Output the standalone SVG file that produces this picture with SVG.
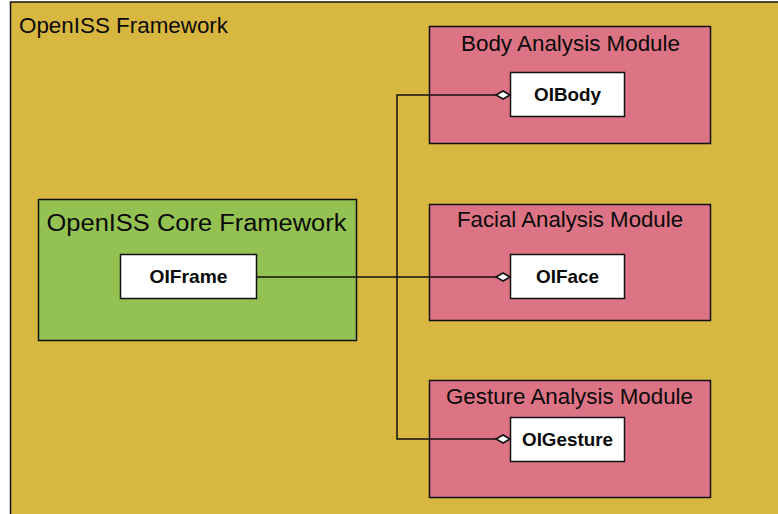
<svg xmlns="http://www.w3.org/2000/svg" width="778" height="514" viewBox="0 0 778 514">
<defs>
<style>
.frame{fill:#D8B740;stroke:#111;stroke-width:1.5}
.core{fill:#93C252;stroke:#111;stroke-width:1.5}
.mod{fill:#DD7485;stroke:#111;stroke-width:1.5}
.cls{fill:#fff;stroke:#111;stroke-width:1.5}
.t{font-family:"Liberation Sans",Arial,Helvetica,sans-serif;fill:#0a0a0a}
.title{font-size:22px}
.lbl{font-size:19px;font-weight:bold;text-anchor:middle}
.conn{fill:none;stroke:#111;stroke-width:1.5}
</style>
<marker id="dia" markerUnits="userSpaceOnUse" markerWidth="18" markerHeight="12" refX="15" refY="5.5" orient="auto">
<path d="M1,5.5 L8,1.5 L15,5.5 L8,9.5 Z" fill="#fff" stroke="#111" stroke-width="1.6"/>
</marker>
</defs>
<rect width="778" height="514" fill="#fff"/>
<g id="openiss-framework">
<rect class="frame" x="10.5" y="2" width="800" height="600"/>
<text class="t title" x="19" y="33" textLength="209" lengthAdjust="spacingAndGlyphs">OpenISS Framework</text>
</g>
<g id="core-framework">
<rect class="core" x="38.5" y="199.5" width="318" height="141"/>
<text class="t" x="46.5" y="231" font-size="23" textLength="300" lengthAdjust="spacingAndGlyphs">OpenISS Core Framework</text>
</g>
<g id="OIFrame">
<rect class="cls" x="120.5" y="254.5" width="136" height="44"/>
<text class="t lbl" x="188.5" y="283" textLength="78" lengthAdjust="spacingAndGlyphs">OIFrame</text>
</g>
<g id="body-module">
<rect class="mod" x="429.5" y="26.5" width="281" height="117"/>
<text class="t title" x="461" y="51" textLength="219" lengthAdjust="spacingAndGlyphs">Body Analysis Module</text>
</g>
<g id="OIBody">
<rect class="cls" x="510.5" y="72.5" width="114" height="44"/>
<text class="t lbl" x="567.5" y="101" textLength="67" lengthAdjust="spacingAndGlyphs">OIBody</text>
</g>
<g id="facial-module">
<rect class="mod" x="429.5" y="204.5" width="281" height="116"/>
<text class="t title" x="457" y="227" textLength="226" lengthAdjust="spacingAndGlyphs">Facial Analysis Module</text>
</g>
<g id="OIFace">
<rect class="cls" x="510.5" y="254.5" width="114" height="44"/>
<text class="t lbl" x="567.5" y="283" textLength="63" lengthAdjust="spacingAndGlyphs">OIFace</text>
</g>
<g id="gesture-module">
<rect class="mod" x="429.5" y="380.5" width="281" height="117"/>
<text class="t title" x="446" y="404" textLength="247" lengthAdjust="spacingAndGlyphs">Gesture Analysis Module</text>
</g>
<g id="OIGesture">
<rect class="cls" x="510.5" y="417.5" width="114" height="44"/>
<text class="t lbl" x="567.5" y="446" textLength="91" lengthAdjust="spacingAndGlyphs">OIGesture</text>
</g>
<g id="connectors">
<path class="conn" d="M257,277 L510,277" marker-end="url(#dia)"/>
<path class="conn" d="M397,277 L397,95 L510,95" marker-end="url(#dia)"/>
<path class="conn" d="M397,277 L397,439 L510,439" marker-end="url(#dia)"/>
</g>
</svg>
